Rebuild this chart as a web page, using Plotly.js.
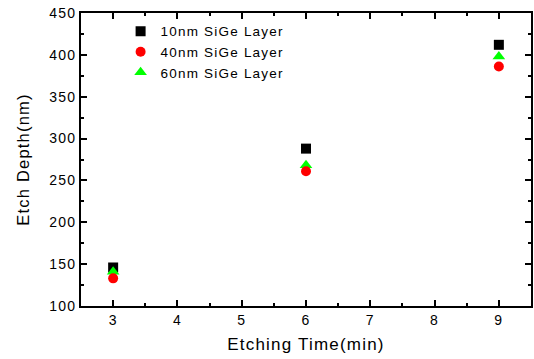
<!DOCTYPE html>
<html><head><meta charset="utf-8">
<script src="https://cdn.plot.ly/plotly-3.0.1.min.js"></script>
<style>html,body{margin:0;padding:0;background:#fff}#c{width:534px;height:359px}
text{letter-spacing:1.2px}</style>
</head><body><div id="c"></div>
<script>
var times = [3, 6, 9];
var depth10 = [146, 288, 412];
var depth40 = [133, 261, 386];
var depth60 = [141, 268, 398];
var names = ['10nm SiGe Layer', '40nm SiGe Layer', '60nm SiGe Layer'];

var traces = [
  {x: times, y: depth10, name: names[0], type: 'scatter', mode: 'markers',
   marker: {symbol: 'square', size: 10, color: '#000000'}},
  {x: times, y: depth60, name: names[2], type: 'scatter', mode: 'markers', showlegend: false,
   marker: {symbol: 'triangle-up', size: 11, color: '#00ff00'}},
  {x: times, y: depth40, name: names[1], type: 'scatter', mode: 'markers',
   marker: {symbol: 'circle', size: 10, color: '#ff0000'}},
  {x: [null], y: [null], name: names[2], type: 'scatter', mode: 'markers',
   marker: {symbol: 'triangle-up', size: 11, color: '#00ff00'}}
];

var fam = 'Liberation Sans, Arial, sans-serif';
var layout = {
  width: 534, height: 359,
  margin: {l: 81, r: 3, t: 13, b: 53},
  paper_bgcolor: '#fff', plot_bgcolor: '#fff',
  font: {family: fam, size: 14, color: '#000'},
  showlegend: true,
  legend: {x: 0.088, y: 0.99, xanchor: 'left', yanchor: 'top', bgcolor: 'rgba(0,0,0,0)',
           font: {family: fam, size: 13.5, color: '#000'}, itemwidth: 30, tracegroupgap: 0},
  xaxis: {
    range: [2.5, 9.5], dtick: 1, tick0: 3, showgrid: false, zeroline: false,
    showline: true, linecolor: '#000', linewidth: 2, mirror: 'ticks',
    ticks: 'inside', ticklen: 6, tickwidth: 2, tickcolor: '#000',
    minor: {dtick: 0.5, ticks: 'inside', ticklen: 3, tickwidth: 2, tickcolor: '#000', showgrid: false},
    tickfont: {family: fam, size: 14, color: '#000'},
    title: {text: 'Etching Time(min)', font: {family: fam, size: 17, color: '#000'}, standoff: 11}
  },
  yaxis: {
    range: [100, 450], dtick: 50, showgrid: false, zeroline: false,
    showline: true, linecolor: '#000', linewidth: 2, mirror: 'ticks',
    ticks: 'inside', ticklen: 6, tickwidth: 2, tickcolor: '#000',
    minor: {dtick: 25, ticks: 'inside', ticklen: 3, tickwidth: 2, tickcolor: '#000', showgrid: false},
    tickfont: {family: fam, size: 14, color: '#000'},
    title: {text: 'Etch Depth(nm)', font: {family: fam, size: 16.5, color: '#000'}, standoff: 15}
  }
};
Plotly.newPlot('c', traces, layout, {displayModeBar: false, staticPlot: true});
</script></body></html>
